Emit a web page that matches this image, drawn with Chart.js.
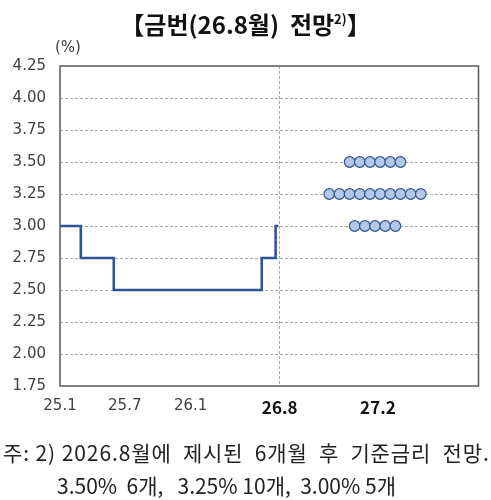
<!DOCTYPE html>
<html>
<head>
<meta charset="utf-8">
<script src="https://cdn.jsdelivr.net/npm/chart.js@4/dist/chart.umd.min.js"></script>
<style>
  body { margin: 0; background: #fff; }
  #wrap { position: relative; width: 491px; height: 500px; }
  #chart { position: absolute; left: 0; top: 0; }
  .txt { position: absolute; font-family: "Noto Sans CJK KR", sans-serif; color: #111; white-space: pre; }
  #title { left: 0; width: 491px; top: 8px; text-align: center; font-size: 24px; font-weight: 700; line-height: 32px; }
  #title sup { font-size: 13px; vertical-align: 10px; line-height: 0; }
  #unit { left: 55px; top: 38px; font-family: "DejaVu Sans", sans-serif; font-size: 15px; color: #404040; }
  #note1 { left: 3px; top: 437px; font-size: 21px; letter-spacing: 0.9px; line-height: 30px; color: #222; }
  #note2 { left: 57px; top: 470px; font-size: 21px; line-height: 30px; color: #222; }
</style>
</head>
<body>
<div id="wrap">
  <canvas id="chart" width="491" height="500"></canvas>
  <div class="txt" id="title">【금번(26.8월)  전망<sup>2)</sup>】</div>
  <div class="txt" id="unit">(%)</div>
  <div class="txt" id="note1">주: 2) 2026.8월에  제시된  6개월  후  기준금리  전망.</div>
  <div class="txt" id="note2">3.50%  6개,   3.25% 10개,  3.00% 5개</div>
</div>
<script>
// x in months counted from 25.1
let xTickLabels = ['25.1', '25.7', '26.1', '26.8', '27.2'];
let xTickPos = [0, 5.6, 11.3, 19, 27.5];
let yTicks = [1.75, 2.00, 2.25, 2.50, 2.75, 3.00, 3.25, 3.50, 3.75, 4.00, 4.25];

// base rate path (step)
let rateX = [0, 1.8, 4.65, 17.45, 18.65, 18.9];
let rateY = [3.00, 2.75, 2.50, 2.75, 3.00, 3.00];

// six-month-ahead projections
let dotRates = [3.50, 3.25, 3.00];
let dotCounts = [6, 10, 5];
let dotCenter = 27.25;
let dotGap = 0.88;

let ratePoints = [];
for (let i = 0; i < rateX.length; i++) {
    ratePoints.push({ x: rateX[i], y: rateY[i] });
}

let dotPoints = [];
for (let i = 0; i < dotRates.length; i++) {
    for (let j = 0; j < dotCounts[i]; j++) {
        dotPoints.push({ x: dotCenter + (j - (dotCounts[i] - 1) / 2) * dotGap, y: dotRates[i] });
    }
}

var boxPlugin = {
    id: 'box',
    afterDraw: function (chart) {
        let a = chart.chartArea;
        let ctx = chart.ctx;
        ctx.save();
        ctx.strokeStyle = '#595959';
        ctx.lineWidth = 1.5;
        ctx.strokeRect(a.left, a.top, a.right - a.left, a.bottom - a.top);
        ctx.restore();
    }
};

new Chart(document.getElementById('chart').getContext('2d'), {
    type: 'scatter',
    data: {
        datasets: [
            {
                type: 'line',
                data: ratePoints,
                stepped: true,
                borderColor: '#2f5597',
                borderWidth: 2.6,
                pointRadius: 0,
                fill: false
            },
            {
                data: dotPoints,
                backgroundColor: '#b4c7e7',
                borderColor: '#2f5597',
                borderWidth: 1.2,
                pointRadius: 5.3
            }
        ]
    },
    options: {
        responsive: false,
        animation: false,
        layout: { padding: { left: 0, top: 66, right: 12.5, bottom: 74 } },
        plugins: { legend: { display: false }, tooltip: { enabled: false } },
        scales: {
            x: {
                type: 'linear',
                min: 0,
                max: 36.2,
                afterFit: function (scale) { scale.height = 40; },
                afterBuildTicks: function (scale) {
                    scale.ticks = xTickPos.map(v => ({ value: v }));
                },
                ticks: {
                    autoSkip: false,
                    maxRotation: 0,
                    padding: 11,
                    callback: function (v, i) { return xTickLabels[i]; },
                    color: function (c) { return c.index >= 3 ? '#111' : '#404040'; },
                    font: function (c) {
                        return c.index >= 3
                            ? { family: 'Noto Sans CJK KR', size: 17, weight: 'bold', lineHeight: 1.2 }
                            : { family: 'DejaVu Sans', size: 15, weight: 'normal', lineHeight: 1.2 };
                    }
                },
                grid: {
                    drawTicks: false,
                    lineWidth: 1,
                    color: function (c) { return c.index === 3 ? '#a6a6a6' : 'rgba(0,0,0,0)'; }
                },
                border: { display: false, dash: [3, 2] }
            },
            y: {
                min: 1.75,
                max: 4.25,
                afterFit: function (scale) { scale.width = 60; },
                afterBuildTicks: function (scale) {
                    scale.ticks = yTicks.map(v => ({ value: v }));
                },
                ticks: {
                    padding: 14,
                    color: '#404040',
                    font: { family: 'DejaVu Sans', size: 15 },
                    callback: function (v) { return v.toFixed(2); }
                },
                grid: {
                    drawTicks: false,
                    lineWidth: 1,
                    color: function (c) {
                        return (c.index === 0 || c.index === yTicks.length - 1) ? 'rgba(0,0,0,0)' : '#a6a6a6';
                    }
                },
                border: { display: false, dash: [3, 2] }
            }
        }
    },
    plugins: [boxPlugin]
});
</script>
</body>
</html>
